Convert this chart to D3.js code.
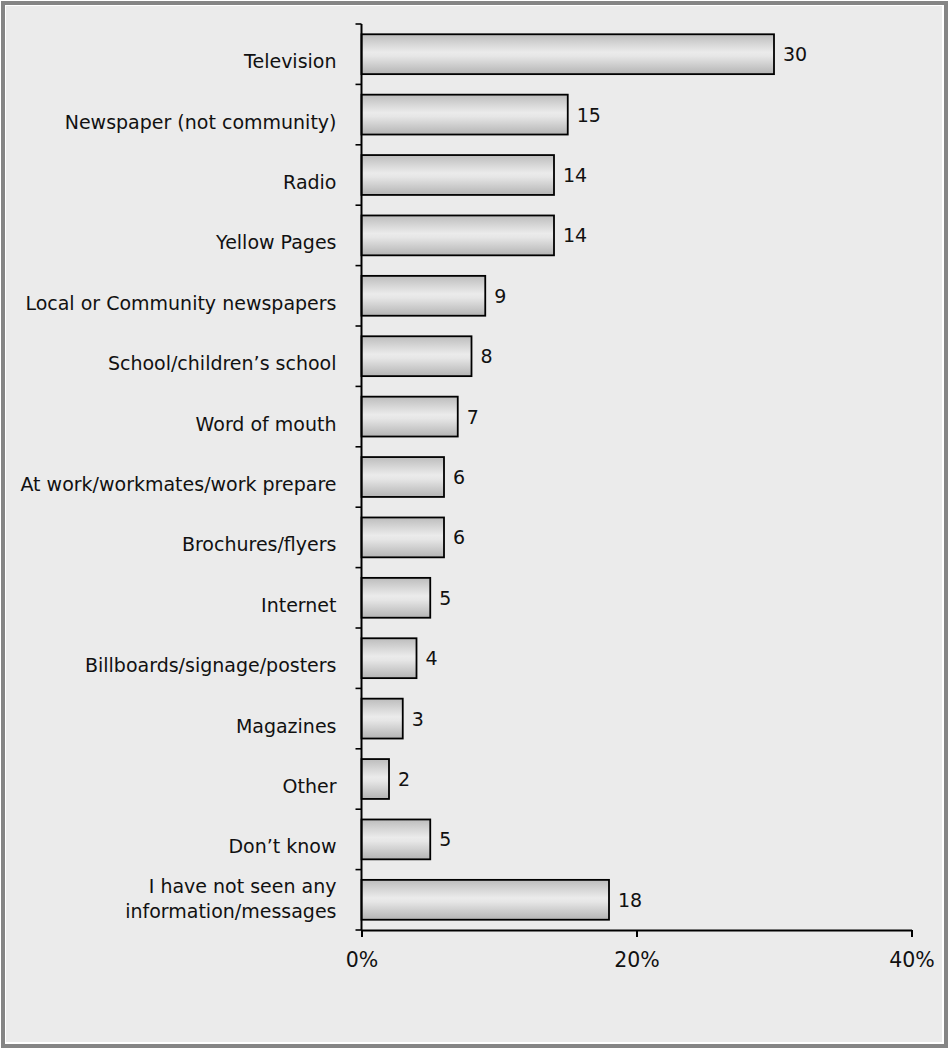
<!DOCTYPE html>
<html>
<head>
<meta charset="utf-8">
<script src="https://cdn.jsdelivr.net/npm/d3@7"></script>
<style>
  html, body { margin: 0; padding: 0; background: #ffffff; }
  svg { display: block; }
  text { font-family: "DejaVu Sans", sans-serif; fill: #111; }
</style>
</head>
<body>
<script>
// Where respondents saw information/messages (% of respondents)
const categories = [
  "Television",
  "Newspaper (not community)",
  "Radio",
  "Yellow Pages",
  "Local or Community newspapers",
  "School/children\u2019s school",
  "Word of mouth",
  "At work/workmates/work prepare",
  "Brochures/flyers",
  "Internet",
  "Billboards/signage/posters",
  "Magazines",
  "Other",
  "Don\u2019t know",
  "I have not seen any\ninformation/messages"
];
const values = [30, 15, 14, 14, 9, 8, 7, 6, 6, 5, 4, 3, 2, 5, 18];
const xTicks = [0, 20, 40];

const W = 948, H = 1048;
const margin = { left: 361.5, right: 36.5, top: 24, bottom: 118 };

const svg = d3.select("body").append("svg")
  .attr("width", W).attr("height", H);

// frame: grey border with a thin white inner rule
svg.append("rect").attr("x", 0).attr("y", 0).attr("width", W).attr("height", H).attr("fill", "#ffffff");
svg.append("rect").attr("x", 3).attr("y", 3).attr("width", W - 5).attr("height", H - 5)
  .attr("fill", "none").attr("stroke", "#858585").attr("stroke-width", 4);
svg.append("rect").attr("x", 5.5).attr("y", 5.5).attr("width", W - 11).attr("height", H - 11)
  .attr("fill", "#ebebeb").attr("stroke", "#ffffff").attr("stroke-width", 1);

// bar fill: darker at the edges, lighter through the middle
const grad = svg.append("defs").append("linearGradient")
  .attr("id", "barFill").attr("x1", 0).attr("y1", 0).attr("x2", 0).attr("y2", 1);
[[0, "#bdbdbd"], [0.45, "#ebebeb"], [0.55, "#e6e6e6"], [1, "#b4b4b4"]].forEach(([o, c]) =>
  grad.append("stop").attr("offset", o).attr("stop-color", c));

const x = d3.scaleLinear().domain([0, 40]).range([margin.left, W - margin.right]);
const y = d3.scaleBand().domain(categories)
  .range([margin.top, H - margin.bottom]).paddingInner(0.34).paddingOuter(0.17);
const step = y.step();

const g = svg.append("g");

// bars
g.selectAll("rect.bar").data(categories).join("rect")
  .attr("class", "bar")
  .attr("x", x(0))
  .attr("y", d => y(d))
  .attr("width", (d, i) => x(values[i]) - x(0))
  .attr("height", y.bandwidth())
  .attr("fill", "url(#barFill)")
  .attr("stroke", "#000").attr("stroke-width", 1.8);

// value labels
g.selectAll("text.val").data(categories).join("text")
  .attr("class", "val")
  .attr("x", (d, i) => x(values[i]) + 9)
  .attr("y", d => y(d) + y.bandwidth() / 2 + 7)
  .attr("font-size", 19)
  .text((d, i) => values[i]);

// category labels, right aligned against the axis
const labels = g.selectAll("text.cat").data(categories).join("text")
  .attr("class", "cat")
  .attr("text-anchor", "end")
  .attr("font-size", 19)
  .attr("x", x(0) - 25);
labels.each(function(d) {
  const lines = d.split("\n");
  const cy = y(d) + y.bandwidth() / 2;
  const t = d3.select(this);
  lines.forEach((ln, k) => {
    t.append("tspan")
      .attr("x", x(0) - 25)
      .attr("y", cy + 14 + (k - (lines.length - 1)) * 25 + (lines.length - 1) * 4)
      .text(ln);
  });
});

// category axis: boundary ticks on the left
const yAxis = g.append("g");
yAxis.append("line")
  .attr("x1", x(0)).attr("x2", x(0))
  .attr("y1", margin.top).attr("y2", H - margin.bottom)
  .attr("stroke", "#000").attr("stroke-width", 2);
const bounds = d3.range(categories.length + 1).map(i => margin.top + i * step);
yAxis.selectAll("line.tk").data(bounds).join("line")
  .attr("class", "tk")
  .attr("x1", x(0) - 6).attr("x2", x(0))
  .attr("y1", d => d).attr("y2", d => d)
  .attr("stroke", "#000").attr("stroke-width", 1.6);

// value axis
const xAxis = d3.axisBottom(x).tickValues(xTicks).tickFormat(d => d + "%")
  .tickSizeInner(7).tickSizeOuter(0).tickPadding(15);
const xg = g.append("g").attr("transform", `translate(0,${H - margin.bottom})`).call(xAxis);
xg.select(".domain").attr("stroke", "#000").attr("stroke-width", 2);
xg.selectAll(".tick line").attr("stroke", "#000").attr("stroke-width", 2);
xg.selectAll(".tick text").attr("font-size", 20.5)
  .attr("font-family", "\"DejaVu Sans\", sans-serif")
  .attr("fill", "#111");
</script>
</body>
</html>
